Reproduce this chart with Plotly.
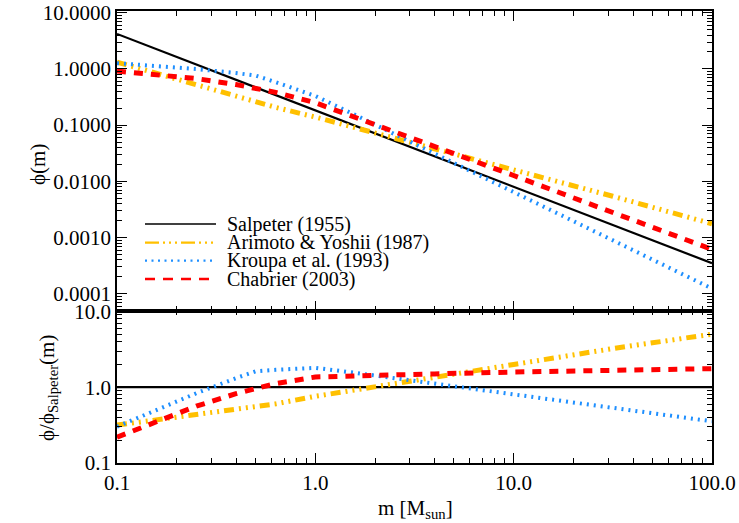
import plotly.graph_objects as go

# ---- data ----
mass = [0.1, 0.158, 0.251, 0.398, 0.501, 0.631, 1.0, 1.585, 2.512, 3.981, 10.0, 31.62, 100.0]
salpeter_m = [0.1, 100.0]
salpeter_phi = [4.19, 3.5e-4]
salpeter_ratio = [1.0, 1.0]

arimoto_phi = [1.324, 0.832, 0.522, 0.329, 0.258, 0.207, 0.139, 0.0893, 0.0589, 0.0378, 0.0160, 0.00543, 0.00176]
kroupa_phi = [1.265, 1.122, 0.995, 0.845, 0.760, 0.582, 0.330, 0.152, 0.0692, 0.0315, 0.00637, 0.000902, 0.000124]
chabrier_phi = [0.916, 0.794, 0.673, 0.527, 0.453, 0.383, 0.250, 0.139, 0.0767, 0.0421, 0.0127, 0.00279, 0.000617]

arimoto_ratio = [0.316, 0.372, 0.437, 0.513, 0.550, 0.603, 0.759, 0.912, 1.122, 1.349, 1.995, 3.236, 5.012]
kroupa_ratio = [0.302, 0.501, 0.832, 1.318, 1.622, 1.698, 1.80, 1.549, 1.318, 1.122, 0.794, 0.537, 0.355]
chabrier_ratio = [0.219, 0.355, 0.562, 0.822, 0.966, 1.117, 1.365, 1.422, 1.462, 1.500, 1.585, 1.660, 1.758]

top_ticks = [1e-4, 1e-3, 1e-2, 1e-1, 1, 10]
top_ticktext = ["0.0001", "0.0010", "0.0100", "0.1000", "1.0000", "10.0000"]
bot_ticks = [0.1, 1, 10]
bot_ticktext = ["0.1", "1.0", "10.0"]
x_ticks = [0.1, 1, 10, 100]
x_ticktext = ["0.1", "1.0", "10.0", "100.0"]

names = ["Salpeter (1955)", "Arimoto &amp; Yoshii (1987)", "Kroupa et al. (1993)", "Chabrier (2003)"]

FONT = "Liberation Serif"
c_black = "black"
c_gold = "#FFC000"
c_blue = "#1E8FFF"
c_red = "#FF0000"
dash_ay = "10px,5px,2px,5px,2px,5px,2px,5px"
dash_kr = "2px,5px"
dash_ch = "9px,8px"

fig = go.Figure()
series = [
    (salpeter_m, salpeter_phi, salpeter_ratio, c_black, 2.2, "solid"),
    (mass, arimoto_phi, arimoto_ratio, c_gold, 5, dash_ay),
    (mass, kroupa_phi, kroupa_ratio, c_blue, 4, dash_kr),
    (mass, chabrier_phi, chabrier_ratio, c_red, 5, dash_ch),
]
for (xm, yphi, yrat, col, w, dsh), nm in zip(series, names):
    fig.add_trace(go.Scatter(x=xm, y=yphi, mode="lines", name=nm, showlegend=False,
                             line=dict(color=col, width=w, dash=dsh), xaxis="x", yaxis="y"))
for (xm, yphi, yrat, col, w, dsh), nm in zip(series, names):
    fig.add_trace(go.Scatter(x=xm, y=yrat, mode="lines", name=nm, showlegend=False,
                             line=dict(color=col, width=w, dash=dsh), xaxis="x2", yaxis="y2"))

minor = dict(ticks="inside", ticklen=5, tickcolor="black", tickwidth=1, dtick="D1", showgrid=False)
axis_common = dict(type="log", showline=True, linecolor="black", linewidth=1.5, mirror="allticks",
                   ticks="inside", ticklen=10, tickwidth=1, tickcolor="black", showgrid=False,
                   zeroline=False, automargin=False,
                   tickfont=dict(family=FONT, size=21, color="black"), minor=minor)

L, R, T, B = 117, 27, 11, 60
W, H = 739, 523
pw, ph = W - L - R, H - T - B
split = 0.337

def px_x(x):
    return (x - L) / pw

def px_y(y):
    return (H - B - y) / ph

# manual legend (samples thinner than data lines, as in the reference)
leg_rows = [224, 242.7, 260.7, 279]
leg_styles = [(c_black, 1.6, "solid"),
              (c_gold, 2.2, "14px,4px,2px,4px,2px,4px,2px,4px"),
              (c_blue, 2.2, "2px,4.5px"),
              (c_red, 2.6, "10px,8px")]
shapes = []
annotations = []
for yy, (col, w, dsh), nm in zip(leg_rows, leg_styles, names):
    shapes.append(dict(type="line", xref="paper", yref="paper",
                       x0=px_x(145), x1=px_x(216), y0=px_y(yy), y1=px_y(yy),
                       line=dict(color=col, width=w, dash=dsh)))
    annotations.append(dict(text=nm, xref="paper", yref="paper", x=px_x(225), y=px_y(yy),
                            xanchor="left", yanchor="middle", showarrow=False,
                            font=dict(family=FONT, size=20, color="black")))

annotations.append(dict(text="m [M<sub>sun</sub>]", xref="paper", yref="paper",
                        x=px_x(415), y=px_y(509), xanchor="center", yanchor="middle",
                        showarrow=False, font=dict(family=FONT, size=21, color="black")))
annotations.append(dict(text="ϕ(m)", xref="paper", yref="paper", textangle=-90,
                        x=px_x(38), y=px_y(165), xanchor="center", yanchor="middle",
                        showarrow=False, font=dict(family=FONT, size=21, color="black")))
annotations.append(dict(text="ϕ/ϕ<sub>Salpeter</sub>(m)", xref="paper", yref="paper", textangle=-90,
                        x=px_x(48), y=px_y(388), xanchor="center", yanchor="middle",
                        showarrow=False, font=dict(family=FONT, size=21, color="black")))

fig.update_layout(
    width=W, height=H,
    margin=dict(l=L, r=R, t=T, b=B, autoexpand=False),
    paper_bgcolor="white", plot_bgcolor="white",
    font=dict(family=FONT, size=21, color="black"),
    xaxis=dict(axis_common, domain=[0, 1], range=[-1, 2], anchor="y",
               tickmode="array", tickvals=x_ticks, showticklabels=False),
    yaxis=dict(axis_common, domain=[split, 1], range=[-4.30, 1.03], anchor="x",
               tickmode="array", tickvals=top_ticks, ticktext=top_ticktext),
    xaxis2=dict(axis_common, domain=[0, 1], range=[-1, 2], anchor="y2",
                tickmode="array", tickvals=x_ticks, ticktext=x_ticktext),
    yaxis2=dict(axis_common, domain=[0, split], range=[-1.0, 1.01], anchor="x2",
                tickmode="array", tickvals=bot_ticks, ticktext=bot_ticktext),
    shapes=shapes,
    annotations=annotations,
    showlegend=False,
)

fig.write_html("out.html",
               config={"displayModeBar": False},
               post_script="document.body.style.margin='0';document.body.style.padding='0';"
                           "document.body.style.overflow='hidden';")
